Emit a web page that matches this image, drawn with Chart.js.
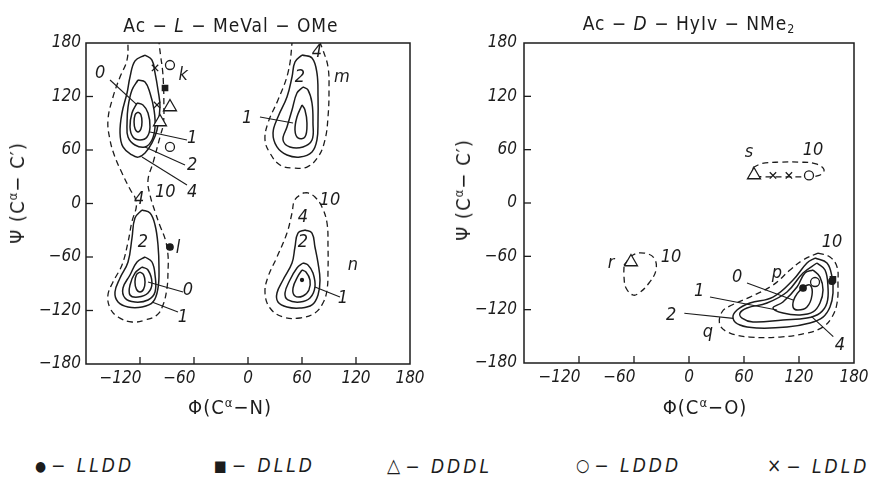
<!DOCTYPE html>
<html><head><meta charset="utf-8">
<script src="https://cdn.jsdelivr.net/npm/chart.js@4.4.1/dist/chart.umd.min.js"></script>
<style>
html,body{margin:0;padding:0;background:#fff}
body{width:876px;height:491px;position:relative;overflow:hidden;color:#1c1c1c;font-family:'Liberation Sans Narrow','DejaVu Sans Condensed','Liberation Sans',sans-serif}
canvas{position:absolute;top:0}
#c1{left:0}
#c2{left:436px}
.t{position:absolute;white-space:nowrap;line-height:1;transform:translate(-50%,-50%)}
.r{transform:translate(-50%,-50%) rotate(-90deg)}
.lg{position:absolute;top:455px;font-style:italic;font-size:19px;white-space:nowrap;line-height:20px;letter-spacing:3px}
.lg b{font-weight:normal;font-style:normal;display:inline-block;margin-right:5px;letter-spacing:0;vertical-align:1px}
sup{font-size:65%;vertical-align:0.55em;line-height:0}
sub{font-size:65%;vertical-align:-0.3em;line-height:0}
</style></head><body>
<canvas id="c1" width="440" height="420"></canvas>
<canvas id="c2" width="440" height="420"></canvas>
<div class="t" style="left:231px;top:25px;font-size:19px;letter-spacing:1px">Ac − <i>L</i> − MeVal − OMe</div>
<div class="t" style="left:689px;top:23px;font-size:19px;letter-spacing:1px">Ac − <i>D</i> − HyIv − NMe<sub>2</sub></div>
<div class="t" style="left:230px;top:407px;font-size:20px;letter-spacing:1px">Φ(C<sup>α</sup>−N)</div>
<div class="t" style="left:705px;top:407px;font-size:20px;letter-spacing:1px">Φ(C<sup>α</sup>−O)</div>
<div class="t r" style="left:17px;top:193px;font-size:20px;letter-spacing:1px">Ψ (C<sup>α</sup>− C′)</div>
<div class="t r" style="left:463px;top:190px;font-size:20px;letter-spacing:1px">Ψ (C<sup>α</sup>− C′)</div>
<div class="lg" style="left:35px"><b style="font-size:14px">●</b>− LLDD</div>
<div class="lg" style="left:214px"><b style="font-size:15px">■</b>− DLLD</div>
<div class="lg" style="left:387px"><b style="font-size:19px">△</b>− DDDL</div>
<div class="lg" style="left:576px"><b style="font-size:17px">○</b>− LDDD</div>
<div class="lg" style="left:767px"><b style="font-size:19px">×</b>− LDLD</div>
<script>
// ---------- axis ticks ----------
const phiTicks = [-180, -120, -60, 0, 60, 120, 180];
const psiTicks = [-180, -120, -60, 0, 60, 120, 180];

// ---------- left map: Ac-L-MeVal-OMe (contours: [phi, psi]) ----------
const L_band10 = [[-133,195],[-99,195],[-99,183],[-97,165],[-95,150],[-94,135],[-93.5,116],[-94,90],[-97.8,74.6],[-105.6,45.4],[-111.1,26.4],[-108.9,9.5],[-103,-10],[-97.8,-25],[-92,-40],[-88.9,-57.8],[-88.9,-76.8],[-90,-94.8],[-94.4,-113.8],[-101.1,-125],[-114.4,-130.7],[-128.9,-132.9],[-144.4,-127.3],[-153.3,-117.2],[-155.6,-102.6],[-150,-88],[-140,-69],[-133.3,-43.2],[-128.9,-20],[-124,-3],[-126,8],[-130,14],[-140,34.2],[-147.8,52.1],[-153.3,71.2],[-155.6,93.6],[-150,119.4],[-142.2,141.9],[-134.4,161],[-133.3,183]];
const L_beta4 = [[-114.4,166.5],[-106.7,160.9],[-103.3,146.4],[-100,127.3],[-97.8,108.2],[-101.1,82.4],[-106.7,67.9],[-114.4,56.7],[-122,52],[-128.9,54.4],[-138.9,63.4],[-142.2,79.1],[-140,101.5],[-134.4,123.9],[-131.1,141.9],[-125.5,160]];
const L_beta2 = [[-122.2,138.5],[-114.4,136.3],[-108.9,123.9],[-104.4,104.9],[-103.3,85.8],[-106.7,71.2],[-114.4,63.4],[-125.6,65.6],[-133.3,74.6],[-134.4,90.3],[-133.3,108.2],[-128.9,127.3]];
const L_beta1 = [[-123.3,112.7],[-116.7,110.5],[-111.1,101.5],[-108.9,85.8],[-112.2,74.6],[-120,71.2],[-127.8,74.6],[-131.1,85.8],[-128.9,101.5]];
const L_beta0 = [[-122.2,102.6],[-119,99.5],[-117.8,91.4],[-119,83.5],[-122.2,80.2],[-125.4,83.5],[-126.6,91.4],[-125.4,99.5]];
const L_alpha4 = [[-117.8,-7.3],[-108.9,-10.7],[-103.3,-24.1],[-100,-46.5],[-98.9,-72.3],[-100,-94.8],[-105.6,-110.5],[-117.8,-116.1],[-133.3,-116.1],[-144.4,-110.5],[-147.8,-99.3],[-142.2,-83.6],[-133.3,-65.6],[-128.9,-38.7],[-125.6,-16.3]];
const L_alpha2 = [[-114.4,-60],[-106.7,-65.6],[-103.3,-80.2],[-103.3,-99.3],[-111.1,-108.2],[-125.6,-110.5],[-136.7,-106],[-138.9,-94.8],[-131.1,-80.2],[-123.3,-65.6]];
const L_alpha1 = [[-117.8,-71.2],[-111.1,-74.6],[-106.7,-89.2],[-111.1,-100.4],[-122.2,-104.9],[-131.1,-102.6],[-131.1,-91.4],[-125.6,-78]];
const L_alpha0 = [[-120,-76.8],[-116,-80],[-114.4,-88],[-116,-96],[-120,-99.2],[-124,-96],[-125.6,-88],[-124,-80]];
const L_m10 = [[48.9,195],[48.9,180],[44.4,146.4],[33.3,116.1],[22.2,90.3],[18.9,71.2],[24.4,56.6],[35.5,43.2],[50,39.8],[65.5,40.9],[77.8,52.1],[85.5,71.2],[88.9,97],[90,127.3],[88.9,153.1],[83.3,172.1],[80,181],[78,195]];
const L_m4 = [[60,166.5],[71.1,163.2],[76.6,146.4],[77.8,119.4],[77.8,93.6],[76.6,71.2],[71.1,57.8],[57.8,52.1],[43.3,54.4],[32.2,63.4],[27.8,79.1],[33.3,97],[43.3,119.4],[48.9,141.9],[52.2,158.7]];
const L_m2 = [[61.1,130.7],[66.6,127.3],[71.1,112.7],[72.2,90.3],[71.1,71.2],[61.1,63.4],[46.6,63.4],[38.9,71.2],[43.3,85.8],[48.9,104.9],[54.4,123.9]];
const L_m1 = [[60,110.5],[63.3,104.9],[65.5,90.3],[63.3,74.6],[55.5,73.5],[52.2,82.4],[54.4,97]];
const L_n10 = [[61.1,11.8],[66.6,11.8],[74.4,7.3],[82.2,-3.9],[87.8,-21.9],[88.9,-48.8],[88.9,-74.6],[87.8,-97],[83.3,-111.6],[74.4,-122.8],[57.8,-128.4],[38.9,-127.3],[24.4,-117.2],[18.9,-100.4],[22.2,-82.4],[32.2,-60],[43.3,-33.1],[48.9,-10.7],[52,4]];
const L_n4 = [[63.3,-29.7],[71.1,-33.1],[74.4,-48.8],[77.8,-66.7],[80,-85.8],[77.8,-102.6],[71.1,-113.8],[57.8,-117.2],[43.3,-116.1],[33.3,-110.5],[32.2,-100.4],[38.9,-85.8],[48.9,-66.7],[52.2,-48.8],[55.5,-33.1]];
const L_n2 = [[61.1,-66.7],[66.6,-69],[72.2,-78],[74.4,-93.6],[68.9,-106],[57.8,-110.5],[44.4,-108.2],[41.1,-100.4],[46.6,-85.8],[54.4,-72.3]];
const L_n1 = [[60,-74.6],[64.4,-76.8],[68.9,-85.8],[67.7,-97],[61.1,-103.7],[52.2,-103.7],[50,-94.8],[55.5,-81.4]];
const L_leaders = [[[-153.3,138.5],[-123.3,110.5]],[[-67.8,71.2],[-108.9,80.2]],[[-70,43.2],[-114.4,63.4]],[[-67.8,20.7],[-117.8,52.1]],[[-72.2,-99.3],[-111.1,-88]],[[-77.8,-121.7],[-106.7,-110.5]],[[13.3,97],[50,90.3]],[[102.2,-104.9],[74.4,-93.6]]];
const L_labels = [['0',-164.4,146.4],['k',-72,144],['1',-62,73.5],['2',-62,43],['4',-62,13],['10',-92,13],['4',-121,5],['2',-116.7,-43],['l',-77.8,-50],['0',-66.7,-97],['1',-72.2,-127.3],['2',57.8,142],['4',76.6,170],['m',104.4,142],['1',-1,96],['10',91,4],['4',61,-15],['2',61,-44],['n',116.6,-69],['1',105.5,-106]];
// conformers (left)
const L_LLDD = [[-86.7,-48.8]];
const L_DLLD = [[-92.2,129.5]];
const L_DDDL = [[-86.7,108.2],[-97.8,91.4]];
const L_LDDD = [[-86.7,155.3],[-86.7,63.4]];
const L_LDLD = [[-103.3,152],[-101.1,110.5]];
const L_min = [[60,-85.8]];

// ---------- right map: Ac-D-HyIv-NMe2 ----------
const R_s10 = [[70,40],[80,44.5],[100,46],[120,46],[138.5,44],[147.3,37.5],[142,31],[124,29.5],[100,29.5],[80,29.5],[70.9,31]];
const R_r10 = [[-70.9,-69.8],[-61.1,-58.5],[-49.1,-56.3],[-38.2,-61.9],[-36,-75.4],[-43.6,-90],[-54.5,-101.3],[-61.1,-103.5],[-68.7,-95.6],[-70.9,-83.3]];
const R_p10 = [[140.7,-56.3],[153.8,-60.8],[161.5,-72],[162.5,-90],[161.5,-112.5],[156,-128.3],[146.2,-139.5],[128.7,-146.3],[99.3,-150.8],[66.5,-150.8],[44.7,-146.3],[33.8,-137.3],[36,-122.6],[46.9,-114.8],[66.5,-105.8],[91.6,-92.3],[110.2,-75.4],[124.4,-64.1]];
const R_p4 = [[137.5,-61.9],[150.5,-67.5],[156,-83.3],[157.1,-101.3],[153.8,-117],[146.2,-128.3],[132,-135],[106.9,-139.5],[74.2,-140.6],[55.6,-137.3],[48,-129.4],[52.4,-120.4],[66.5,-112.5],[91.6,-105.8],[113.5,-86.6],[128.7,-67.5]];
const R_p2 = [[139.6,-67.5],[148.4,-75.4],[151.6,-94.5],[150.5,-112.5],[142.9,-123.8],[128.7,-129.4],[102.5,-131.6],[69.8,-133.9],[57.8,-129.4],[55.6,-123.8],[63.3,-118.1],[85.1,-112.5],[106.9,-100.1],[124.4,-78.8]];
const R_p1 = [[135.3,-75.4],[142.9,-83.3],[146.2,-97.9],[142.9,-112.5],[135.3,-122.6],[121.1,-126],[102.5,-123.8],[91.6,-118.1],[102.5,-111.4],[117.8,-94.5],[126.5,-78.8]];
const R_p0 = [[124.4,-94.5],[132,-92.3],[134.2,-103.5],[128.7,-117],[118.9,-120.4],[113.5,-117],[115.6,-105.8]];
const R_leaders = [[[63.3,-90],[113.5,-109.1]],[[22.9,-105.8],[96,-120.4]],[[-5.1,-124],[48.3,-129.8]],[[157.4,-150.4],[133.8,-127.9]]];
const R_labels = [['s',65.5,57.4],['10',135.3,59.6],['r',-85.1,-67.5],['10',-19.6,-60.8],['10',156,-43.9],['p',96,-78.8],['0',52.4,-83.3],['1',11.2,-99.8],['2',-19.6,-126],['q',20.7,-145.1],['4',164.7,-159.8]];
// conformers (right)
const R_LLDD = [[124.4,-95.6],[156,-88]];
const R_DLLD = [[157,-86]];
const R_DDDL = [[70.9,31.5],[-63.3,-66.4]];
const R_LDDD = [[130.9,31],[137.5,-88.9]];
const R_LDLD = [[91.6,31],[109,31]];

// ---------- drawing ----------
const INK = '#1c1c1c';
const FONT = "'Liberation Sans Narrow','DejaVu Sans Condensed','Liberation Sans',sans-serif";
const xy = p => ({x: p[0], y: p[1]});
const loop = (pts, dashed) => ({data: pts.concat([pts[0]]).map(xy), showLine: true, borderColor: INK, borderWidth: dashed ? 1.3 : 1.5, borderDash: dashed ? [6, 4] : [], tension: 0.4, pointRadius: 0, pointHoverRadius: 0, order: 2});
const seg = pts => ({data: pts.map(xy), showLine: true, borderColor: INK, borderWidth: 1.1, tension: 0, pointRadius: 0, pointHoverRadius: 0, order: 2});
const mark = (pts, style, r, fill) => ({data: pts.map(xy), showLine: false, pointStyle: style, pointRadius: r, pointHoverRadius: r, backgroundColor: fill, borderColor: INK, pointBorderWidth: 1.3, order: 0});
const markers = (a, b, c, d, e) => [mark(a, 'circle', 3.2, INK), mark(b, 'rect', 3.8, INK), mark(c, 'triangle', 7.5, '#fff'), mark(d, 'circle', 4.5, '#fff'), mark(e, 'crossRot', 4.5, INK)];

const xFmt = v => v === -180 ? '' : (v < 0 ? '−' + Math.abs(v) + '\u2007'.repeat(String(Math.abs(v)).length + 1) : String(v));
const yFmt = v => v < 0 ? '−' + Math.abs(v) : String(v);

const deco = {
  id: 'deco',
  afterDatasetsDraw(chart, args, opts) {
    const {ctx, chartArea: a, scales: {x, y}} = chart;
    ctx.save();
    ctx.strokeStyle = INK;
    ctx.lineWidth = 1.5;
    ctx.strokeRect(a.left, a.top, a.right - a.left, a.bottom - a.top);
    ctx.lineWidth = 1.3;
    phiTicks.slice(1, -1).forEach(v => {
      const px = x.getPixelForValue(v);
      ctx.beginPath(); ctx.moveTo(px, a.bottom); ctx.lineTo(px, a.bottom - 7); ctx.stroke();
    });
    psiTicks.slice(1, -1).forEach(v => {
      const py = y.getPixelForValue(v);
      ctx.beginPath(); ctx.moveTo(a.left, py); ctx.lineTo(a.left + 7, py); ctx.stroke();
    });
    ctx.fillStyle = INK;
    ctx.font = 'italic 18px ' + FONT;
    ctx.textAlign = 'center';
    ctx.textBaseline = 'middle';
    opts.labels.forEach(([t, vx, vy]) => ctx.fillText(t, x.getPixelForValue(vx), y.getPixelForValue(vy)));
    ctx.restore();
  }
};

function makeChart(id, datasets, labels, padRight, xH, yPad) {
  const tickFont = {family: FONT, size: 17, style: 'italic'};
  return new Chart(document.getElementById(id), {
    type: 'scatter',
    data: {datasets},
    options: {
      responsive: false, animation: false, events: [],
      layout: {padding: {left: 0, top: 43, right: padRight, bottom: 0}},
      plugins: {legend: {display: false}, tooltip: {enabled: false}, deco: {labels}},
      scales: {
        x: {type: 'linear', min: -180, max: 180, afterBuildTicks: s => { s.ticks = phiTicks.map(v => ({value: v})); },
            ticks: {callback: xFmt, font: tickFont, color: INK, padding: 4, maxRotation: 0, autoSkip: false},
            grid: {display: false, drawTicks: false}, border: {display: false},
            afterFit: s => { s.height = xH; }},
        y: {type: 'linear', min: -180, max: 180, afterBuildTicks: s => { s.ticks = psiTicks.map(v => ({value: v})); },
            ticks: {callback: yFmt, font: tickFont, color: INK, padding: yPad, autoSkip: false},
            grid: {display: false, drawTicks: false}, border: {display: false},
            afterFit: s => { s.width = 86 + (yPad - 5); }}
      }
    },
    plugins: [deco]
  });
}

const leftSets = [
  ...markers(L_LLDD, L_DLLD, L_DDDL, L_LDDD, L_LDLD),
  mark(L_min, 'circle', 1.5, INK),
  loop(L_band10, true), loop(L_beta4), loop(L_beta2), loop(L_beta1), loop(L_beta0),
  loop(L_alpha4), loop(L_alpha2), loop(L_alpha1), loop(L_alpha0),
  loop(L_m10, true), loop(L_m4), loop(L_m2), loop(L_m1),
  loop(L_n10, true), loop(L_n4), loop(L_n2), loop(L_n1),
  ...L_leaders.map(seg)
];
const rightSets = [
  ...markers(R_LLDD, R_DLLD, R_DDDL, R_LDDD, R_LDLD),
  loop(R_s10, true), loop(R_r10, true),
  loop(R_p10, true), loop(R_p4), loop(R_p2), loop(R_p1), loop(R_p0),
  ...R_leaders.map(seg)
];
makeChart('c1', leftSets, L_labels, 30, 56, 5);
makeChart('c2', rightSets, R_labels, 22, 57, 7);
</script>
</body></html>
